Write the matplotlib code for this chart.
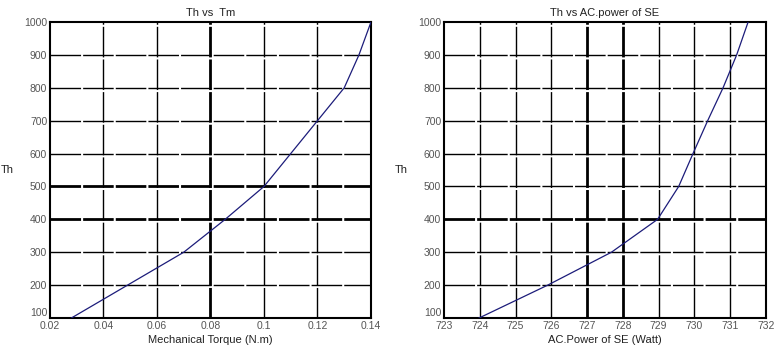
#!/usr/bin/env python3
"""
    Th vs Tm and Th vs AC power of SE
"""

from matplotlib import pyplot as plt

# Left panel: Th vs mechanical torque
torque = [0.028, 0.049, 0.070, 0.0855, 0.100, 0.110, 0.120, 0.130, 0.1355, 0.140]
th_left = [100, 200, 300, 400, 500, 600, 700, 800, 900, 1000]
torque_ticks = [0.02, 0.04, 0.06, 0.08, 0.1, 0.12, 0.14]
torque_labels = ["0.02", "0.04", "0.06", "0.08", "0.1", "0.12", "0.14"]

# Right panel: Th vs AC power of SE
power = [723.98, 725.9, 727.68, 728.97, 729.56, 729.96, 730.37, 730.8, 731.18, 731.5]
th_right = [100, 200, 300, 400, 500, 600, 700, 800, 900, 1000]
power_ticks = [723, 724, 725, 726, 727, 728, 729, 730, 731, 732]

th_ticks = [100, 200, 300, 400, 500, 600, 700, 800, 900, 1000]

LINE_COLOR = "#1c1c7a"
TICK_COLOR = "#555555"
GRID_DASH = (0, (22, 1.5))


def style_axes(ax, xticks, xlabels, thick_x, thick_y):
    ax.set_yticks(th_ticks)
    ax.set_xticks(xticks)
    ax.set_xticklabels(xlabels)
    ax.tick_params(direction="in", length=0, labelsize=7.5, colors=TICK_COLOR, pad=2)
    # the corner labels sit apart like in the original
    ax.get_yticklabels()[0].set_va("bottom")
    ax.get_xticklabels()[0].set_va("top")
    for s in ax.spines.values():
        s.set_linewidth(1.5)
        s.set_color("black")
    for x in xticks[1:-1]:
        lw = 2.0 if x in thick_x else 1.0
        ax.axvline(x, color="black", lw=lw, ls=GRID_DASH, zorder=1)
    for y in th_ticks[1:-1]:
        lw = 2.0 if y in thick_y else 1.0
        ax.axhline(y, color="black", lw=lw, ls=GRID_DASH, zorder=1)


def main() -> int:
    plt.rcParams["font.family"] = ["Liberation Sans", "DejaVu Sans"]
    plt.rcParams["lines.scale_dashes"] = False
    fig = plt.figure(figsize=(7.75, 3.53), dpi=100)

    ax1 = fig.add_axes([50 / 775, 35 / 353, 321 / 775, 296 / 353])
    ax1.plot(torque, th_left, color=LINE_COLOR, lw=0.9, zorder=3)
    ax1.set_xlim(0.02, 0.14)
    ax1.set_ylim(100, 1000)
    style_axes(ax1, torque_ticks, torque_labels, [0.08], [400, 500])
    ax1.set_title("Th vs  Tm", fontsize=8, color="#222222", pad=4)
    ax1.set_xlabel("Mechanical Torque (N.m)", fontsize=8, color="#222222", labelpad=3)
    ax1.set_ylabel("Th", fontsize=8, rotation=0, color="#222222", labelpad=12, va="center")

    ax2 = fig.add_axes([444 / 775, 35 / 353, 322 / 775, 296 / 353])
    ax2.plot(power, th_right, color=LINE_COLOR, lw=0.9, zorder=3)
    ax2.set_xlim(723, 732)
    ax2.set_ylim(100, 1000)
    style_axes(ax2, power_ticks, [str(p) for p in power_ticks], [727, 728], [400])
    ax2.set_title("Th vs AC.power of SE", fontsize=8, color="#222222", pad=4)
    ax2.set_xlabel("AC.Power of SE (Watt)", fontsize=8, color="#222222", labelpad=3)
    ax2.set_ylabel("Th", fontsize=8, rotation=0, color="#222222", labelpad=12, va="center")

    fig.savefig("out.png", dpi=100)
    plt.close(fig)
    return 0


if __name__ == "__main__":
    raise SystemExit(main())
